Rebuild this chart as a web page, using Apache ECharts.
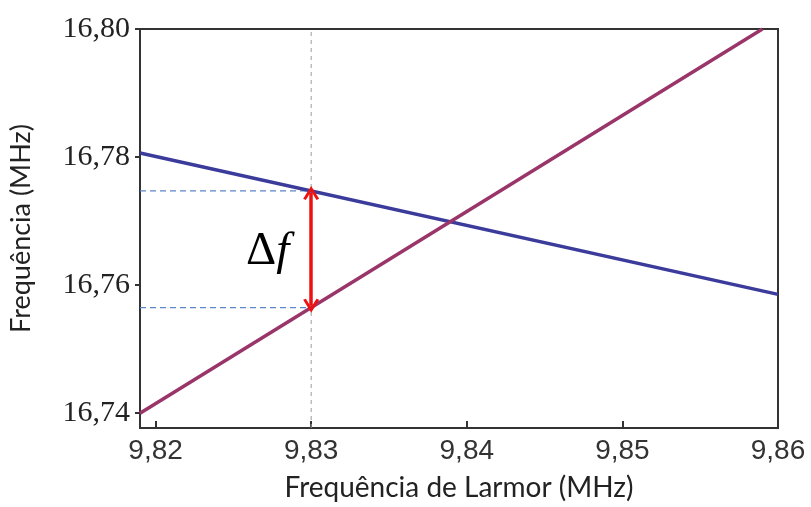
<!DOCTYPE html>
<html>
<head>
<meta charset="utf-8">
<script src="https://cdn.jsdelivr.net/npm/echarts@6/dist/echarts.min.js"></script>
<style>
html,body{margin:0;padding:0;background:#fff;}
#chart{width:811px;height:507px;}
</style>
</head>
<body>
<div id="chart"></div>
<script>
// Data
var xTicks = [9.82, 9.83, 9.84, 9.85, 9.86];
var yTicks = [16.74, 16.76, 16.78, 16.80];
var blueLine = [[9.819, 16.7806], [9.86, 16.7585]];
var purpleLine = [[9.819, 16.7399], [9.859, 16.80]];
var markX = 9.83;
var xTitle = 'Frequência de Larmor (MHz)';
var yTitle = 'Frequência (MHz)';

function interp(line, x) {
  var a = line[0], b = line[1];
  return a[1] + (b[1] - a[1]) * (x - a[0]) / (b[0] - a[0]);
}
var xMin = 9.819, xMax = 9.86, yMin = 16.7376, yMax = 16.80;
var yb = interp(blueLine, markX), yp = interp(purpleLine, markX);

function fmt(v) { return v.toFixed(2).replace('.', ','); }

var chart = echarts.init(document.getElementById('chart'));
var chevron = 'path://M0,12 L6,0 L12,12 L10,13 L6,5 L2,13 Z';
chart.setOption({
  animation: false,
  backgroundColor: '#fff',
  title: {
    text: '{d|Δ}{f|f}', left: 246, top: 228, padding: 0,
    textStyle: {
      rich: {
        d: { fontFamily: 'Liberation Serif', fontSize: 47, color: '#000', fontWeight: 'normal' },
        f: { fontFamily: 'Liberation Serif', fontSize: 47, fontStyle: 'italic', color: '#000', fontWeight: 'normal' }
      }
    }
  },
  grid: { left: 140, top: 29, right: 33, bottom: 75, show: true, borderColor: '#333', borderWidth: 2, containLabel: false },
  xAxis: {
    type: 'value', min: xMin, max: xMax,
    axisLine: { show: true, lineStyle: { color: '#333', width: 2 } },
    axisTick: { show: true, inside: true, length: 7, customValues: xTicks, lineStyle: { color: '#333', width: 2 } },
    axisLabel: { customValues: xTicks, formatter: fmt, fontFamily: 'Liberation Sans', fontSize: 28, color: '#333', margin: 9 },
    splitLine: { show: false },
    name: xTitle, nameLocation: 'middle', nameGap: 46,
    nameTextStyle: { fontFamily: 'Lato', fontSize: 28, color: '#222' }
  },
  yAxis: {
    type: 'value', min: yMin, max: yMax,
    axisLine: { show: true, lineStyle: { color: '#333', width: 2 } },
    axisTick: { show: true, inside: false, length: 5, customValues: yTicks, lineStyle: { color: '#333', width: 2 } },
    axisLabel: { customValues: yTicks, formatter: fmt, fontFamily: 'Liberation Serif', fontSize: 30, color: '#222', margin: 10 },
    splitLine: { show: false },
    name: yTitle, nameLocation: 'middle', nameGap: 105,
    nameTextStyle: { fontFamily: 'Lato', fontSize: 27, color: '#222' }
  },
  series: [
    { type: 'line', data: [[markX, yMin], [markX, yMax]], symbol: 'none', silent: true,
      lineStyle: { color: '#9a9a9a', width: 1, type: [4, 4] } },
    { type: 'line', data: [[xMin, yb], [markX, yb]], symbol: 'none', silent: true,
      lineStyle: { color: '#5b86c8', width: 1.2, type: [6, 4] } },
    { type: 'line', data: [[xMin, yp], [markX, yp]], symbol: 'none', silent: true,
      lineStyle: { color: '#5b86c8', width: 1.2, type: [6, 4] } },
    { type: 'line', data: blueLine, symbol: 'none', lineStyle: { color: '#3b3b9c', width: 3.5 } },
    { type: 'line', data: purpleLine, symbol: 'none', lineStyle: { color: '#9a356a', width: 3.5 } },
    { type: 'line', data: [], symbol: 'none',
      markLine: {
        silent: true, symbol: [chevron, chevron], symbolSize: [16, 14],
        label: { show: false },
        lineStyle: { color: '#ee1111', width: 3.5, type: 'solid' },
        data: [[{ coord: [markX, yb - 0.0003] }, { coord: [markX, yp + 0.0003] }]]
      }
    }
  ]
});
</script>
</body>
</html>
